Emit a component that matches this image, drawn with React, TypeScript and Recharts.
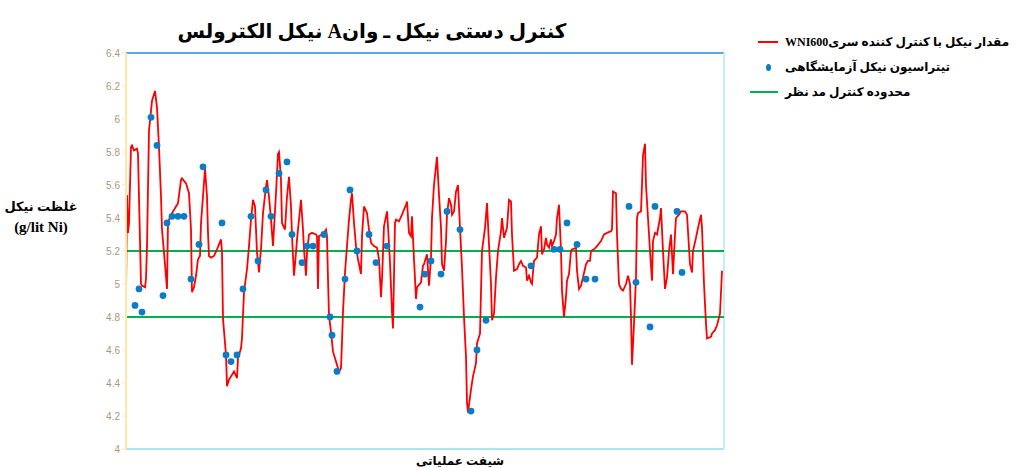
import React from 'react';
import { ComposedChart, Line, Scatter, XAxis, YAxis, ReferenceLine } from 'recharts';

// sample number along the shift record (x) and nickel level in g/lit (y)
const wniSamples = [
  0, 0.5, 1, 1.5, 2.5, 3, 4, 5.5, 6, 7.5, 8, 9.5, 10, 10.5, 11.5, 13, 14.5, 15.5, 16.5, 17.5,
  18, 19, 20.5, 21, 21.5, 23, 25, 26, 27.5, 28, 30, 31.5, 32.5, 33, 34, 35, 36, 37, 37.5, 38.5,
  39.5, 40.5, 41, 41.5, 42.5, 44, 45.5, 47.5, 48, 48.5, 50, 50.5, 51.5, 52.5, 54, 55.5, 56, 57.5, 58, 59,
  60.5, 61.5, 62.5, 63.5, 64.5, 65.5, 66.5, 67, 67.5, 68.5, 70, 70.5, 71.5, 72.5, 73.5, 75, 76, 76.5, 77.5, 78,
  79.5, 80.5, 81.5, 82.5, 83, 84, 85, 85.5, 86.5, 87.5, 88.5, 89, 90, 90.5, 91.5, 93, 95, 95.5, 96, 96.5,
  98, 99, 100, 100.5, 101, 101.5, 102.5, 103.5, 105, 106.5, 107.5, 108, 108.5, 109.5, 110.5, 111.5, 112.5, 113, 114, 115,
  116, 117.5, 118, 119, 120.5, 121.5, 122.5, 124, 125.5, 126.5, 127.5, 128, 129, 130.5, 131, 132, 133, 133.5, 134.5, 135,
  136.5, 138, 140, 140.5, 141.5, 142.5, 143, 144, 145, 145.5, 147.5, 148.5, 149, 150, 150.5, 151.5, 152.5, 153, 154, 155.5,
  156.5, 157.5, 158, 159, 160, 160.5, 161.5, 162.5, 163, 164, 165, 166, 167, 168, 169, 170, 170.5, 171, 172.5, 173.5,
  175, 175.5, 177, 178, 179.5, 180.5, 181.5, 182.5, 183, 184, 185, 186, 187.5, 188, 189, 190, 190.5, 191.5, 192.5, 193,
  194, 195.5, 196.5, 197.5, 198.5, 200, 200.5, 201.5, 202.5, 203, 204, 205.5, 206.5, 207.5, 208, 209, 210, 210.5, 211.5, 212.5,
  213, 214, 215, 215.5, 216.5, 217.5, 218, 219, 220, 220.5, 221.5, 222.5, 223, 225, 225.5, 226.5, 227.5, 228.5, 230, 231,
  232, 232.5, 234, 235.5, 237.5, 239, 240.5, 242.5, 243, 243.5, 245, 245.5, 246.5, 247.5, 248.5, 250, 251, 252, 252.5, 253,
  254, 255, 255.5, 256, 257.5, 258, 258.5, 259.5, 260, 261, 262, 263, 263.5, 264.5, 265.5, 267, 267.5, 268.5, 269.5, 270.5,
  271.5, 272.5, 273.5, 274.5, 275, 276.5, 277.5, 279.5, 280.5, 282, 283, 283.5, 285, 286, 287.5, 288, 289, 290, 290.5, 292.5,
  293, 294.5, 295.5, 297, 298,
];
const wniValues = [
  4.92, 5.54, 5.31, 5.37, 5.83, 5.84, 5.81, 5.82, 5.79, 5.0, 4.99, 4.98, 5.03, 5.23, 5.93, 6.11, 6.17, 6.07, 5.83, 5.53,
  5.33, 5.19, 4.97, 5.37, 5.39, 5.43, 5.47, 5.49, 5.63, 5.64, 5.61, 5.55, 5.33, 4.95, 4.98, 5.05, 5.15, 5.17, 5.37, 5.53,
  5.7, 5.53, 5.31, 5.17, 5.16, 5.17, 5.21, 5.27, 5.19, 4.79, 4.57, 4.38, 4.42, 4.44, 4.47, 4.43, 4.55, 4.61, 4.67, 4.95,
  5.09, 5.23, 5.39, 5.51, 5.47, 5.19, 5.07, 5.15, 5.21, 5.43, 5.59, 5.63, 5.53, 5.39, 5.23, 5.55, 5.79, 5.8, 5.63, 5.37,
  5.33, 5.53, 5.65, 5.47, 5.29, 5.05, 5.19, 5.27, 5.39, 5.51, 5.33, 5.21, 5.05, 5.19, 5.3, 5.31, 5.3, 5.29, 4.97, 5.29,
  5.3, 5.31, 5.33, 5.29, 5.03, 4.81, 4.71, 4.59, 4.53, 4.47, 4.49, 4.65, 4.83, 5.07, 5.23, 5.39, 5.51, 5.55, 5.37, 5.23,
  5.15, 5.06, 5.29, 5.47, 5.43, 5.33, 5.25, 5.23, 5.22, 5.15, 4.92, 5.03, 5.35, 5.44, 5.35, 5.13, 4.83, 4.73, 5.37, 5.39,
  5.38, 5.42, 5.48, 5.5, 5.31, 5.29, 5.41, 5.15, 4.91, 4.98, 5.01, 5.11, 5.12, 5.16, 5.18, 4.99, 5.16, 5.4, 5.6, 5.77,
  5.54, 5.34, 5.12, 5.08, 5.26, 5.42, 5.52, 5.48, 5.42, 5.44, 5.56, 5.6, 5.34, 5.1, 4.8, 4.56, 4.28, 4.22, 4.36, 4.44,
  4.52, 4.64, 4.7, 5.2, 5.34, 5.49, 5.24, 5.0, 4.78, 4.82, 5.04, 5.2, 5.32, 5.4, 5.28, 5.32, 5.34, 5.51, 5.5, 5.3,
  5.08, 5.09, 5.12, 5.14, 5.11, 5.1, 5.02, 5.05, 5.01, 5.0, 5.14, 5.16, 5.3, 5.35, 5.18, 5.21, 5.28, 5.24, 5.22, 5.27,
  5.23, 5.26, 5.3, 5.4, 5.48, 5.2, 4.96, 4.8, 4.92, 5.02, 5.06, 5.2, 5.21, 5.22, 5.08, 4.97, 4.99, 5.04, 5.12, 5.14,
  5.14, 5.2, 5.21, 5.23, 5.26, 5.3, 5.31, 5.32, 5.33, 5.56, 5.55, 5.3, 5.0, 4.97, 4.96, 5.0, 5.05, 5.0, 4.8, 4.51,
  4.76, 5.04, 5.4, 5.43, 5.44, 5.6, 5.78, 5.85, 5.6, 5.4, 5.2, 5.02, 5.26, 5.31, 5.3, 5.4, 5.46, 5.2, 4.97, 5.04,
  5.2, 5.3, 5.06, 5.3, 5.4, 5.42, 5.44, 5.44, 5.42, 5.12, 5.07, 5.2, 5.28, 5.34, 5.42, 5.34, 5.0, 4.76, 4.67, 4.68,
  4.7, 4.72, 4.75, 4.82, 5.08,
];

const labSamples = [
  4.5, 6.5, 8, 12.5, 15.5, 18.5, 20.5, 23, 26, 29, 32.5, 36.5, 38.5, 48, 50, 52.5, 55.5, 58.5, 62.5, 66,
  70, 72.5, 76.5, 80.5, 83, 88, 90.5, 93.5, 99, 102, 103, 105.5, 109.5, 112, 115.5, 121.5, 125, 130.5, 147, 149.5,
  152.5, 157.5, 160.5, 167, 172.5, 175.5, 180, 202.5, 214, 217, 220.5, 225.5, 230, 234.5, 251.5, 255, 262, 264.5, 275.5, 278,
];
const labValues = [
  4.87, 4.97, 4.83, 6.01, 5.84, 4.93, 5.37, 5.41, 5.41, 5.41, 5.03, 5.24, 5.71, 5.37, 4.57, 4.53, 4.57, 4.97, 5.41, 5.14,
  5.57, 5.41, 5.67, 5.74, 5.3, 5.13, 5.23, 5.23, 5.3, 4.8, 4.69, 4.47, 5.03, 5.57, 5.2, 5.3, 5.13, 5.23, 4.86, 5.06,
  5.14, 5.06, 5.44, 5.33, 4.23, 4.6, 4.78, 5.11, 5.21, 5.21, 5.37, 5.24, 5.03, 5.03, 5.47, 5.01, 4.74, 5.47, 5.44, 5.07,
];

const controlLimits = [5.2, 4.8];
const yTicks = [4, 4.2, 4.4, 4.6, 4.8, 5, 5.2, 5.4, 5.6, 5.8, 6, 6.2, 6.4];
const lastSample = 299;

const title = 'کنترل دستی نیکل ـ وانA نیکل الکترولس';
const legendItems = [
  { label: 'مقدار نیکل با کنترل کننده سریWNI600', kind: 'line', color: '#FF0000' },
  { label: 'تیتراسیون نیکل آزمایشگاهی', kind: 'dot', color: '#0C7CC4' },
  { label: 'محدوده کنترل مد نظر', kind: 'line', color: '#00B050' },
];

const wniData = wniSamples.map((t, i) => ({ t, v: wniValues[i] }));
const labData = labSamples.map((t, i) => ({ t, v: labValues[i] }));

const font = "'Liberation Serif', 'DejaVu Sans', serif";

export default function App() {
  return (
    <div style={{ position: 'absolute', left: 0, top: 0, width: 1017, height: 468, background: '#fff', overflow: 'hidden' }}>
      <ComposedChart width={1017} height={468} margin={{ top: 53, right: 293, bottom: 19, left: 86 }}>
        <XAxis dataKey="t" type="number" domain={[0, lastSample]} hide />
        <YAxis
          type="number"
          domain={[4, 6.4]}
          ticks={yTicks}
          width={40}
          interval={0}
          axisLine={{ stroke: '#FFE7A6', strokeWidth: 2 }}
          tickLine={{ stroke: '#FFE7A6' }}
          tickSize={4}
          tick={{ fill: '#A8987E', fontSize: 10, fontFamily: 'Liberation Sans' }}
        />
        <ReferenceLine y={6.4} stroke="#5DA9E3" strokeWidth={2} />
        <ReferenceLine y={4} stroke="#A6E6F4" strokeWidth={2} />
        <ReferenceLine x={lastSample} stroke="#C4EEF8" strokeWidth={2} />
        {controlLimits.map((c) => (
          <ReferenceLine key={c} y={c} stroke="#00B050" strokeWidth={2} />
        ))}
        <Line data={wniData} dataKey="v" stroke="#FF0000" strokeWidth={1.8} dot={false} type="linear" isAnimationActive={false} />
        <Scatter data={labData} dataKey="v" fill="#0C7CC4" shape={(p: any) => <circle cx={p.cx} cy={p.cy} r={3.4} fill="#0C7CC4" />} isAnimationActive={false} />
        <text x={372} y={38} textAnchor="middle" fontSize={20} fontWeight="bold" fontFamily={font} direction="rtl">{title}</text>
        <text x={41} y={211} textAnchor="middle" fontSize={13} fontWeight="bold" fontFamily={font} direction="rtl">غلظت نیکل</text>
        <text x={41} y={232} textAnchor="middle" fontSize={15} fontWeight="bold" fontFamily={font}>(g/lit Ni)</text>
        <text x={460} y={465} textAnchor="middle" fontSize={12} fontWeight="bold" fontFamily={font} direction="rtl">شیفت عملیاتی</text>
      </ComposedChart>
      {legendItems.map((item, i) => (
        <div key={item.label} style={{ position: 'absolute', left: 748, top: 33 + i * 25, height: 18, display: 'flex', alignItems: 'center', fontFamily: font, fontWeight: 'bold', fontSize: 12 }}>
          <div style={{ width: 30, display: 'flex', justifyContent: 'flex-end', marginRight: 7 }}>
            {item.kind === 'line'
              ? <div style={{ width: i === 0 ? 20 : 28, height: 2.5, background: item.color }} />
              : <div style={{ width: 5, height: 7, borderRadius: '50%', background: item.color, marginRight: 7 }} />}
          </div>
          <span dir="rtl" style={{ whiteSpace: 'nowrap' }}>{item.label}</span>
        </div>
      ))}
    </div>
  );
}
